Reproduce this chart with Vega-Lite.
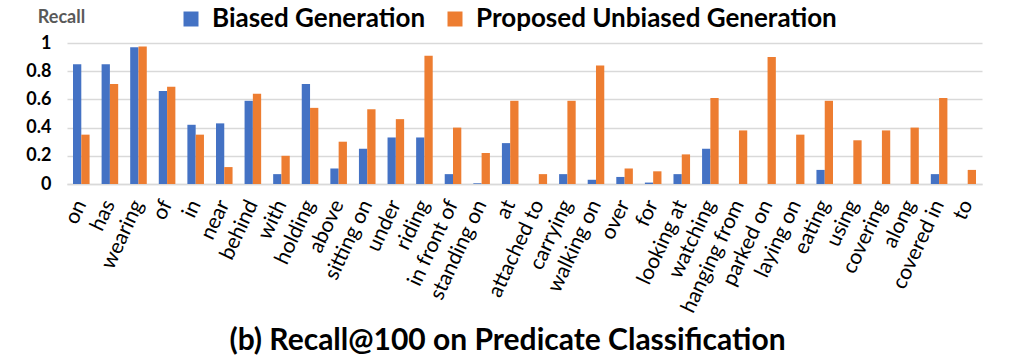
{
  "$schema": "https://vega.github.io/schema/vega-lite/v6.json",
  "width": 915,
  "height": 141,
  "autosize": {"type": "none"},
  "padding": {"left": 67, "top": 43, "right": 42, "bottom": 174},
  "background": "white",
  "config": {
    "font": "Lato",
    "view": {"stroke": null},
    "title": {"font": "Lato", "fontSize": 30, "fontWeight": "bold", "color": "black"}
  },
  "title": {"text": "(b) Recall@100 on Predicate Classification", "orient": "bottom", "anchor": "middle", "offset": 11, "dx": -17},
  "data": {
    "values": [
      {"p": "on", "s": "Biased Generation", "v": 0.85}, {"p": "on", "s": "Proposed Unbiased Generation", "v": 0.35},
      {"p": "has", "s": "Biased Generation", "v": 0.85}, {"p": "has", "s": "Proposed Unbiased Generation", "v": 0.71},
      {"p": "wearing", "s": "Biased Generation", "v": 0.97}, {"p": "wearing", "s": "Proposed Unbiased Generation", "v": 0.975},
      {"p": "of", "s": "Biased Generation", "v": 0.66}, {"p": "of", "s": "Proposed Unbiased Generation", "v": 0.69},
      {"p": "in", "s": "Biased Generation", "v": 0.42}, {"p": "in", "s": "Proposed Unbiased Generation", "v": 0.35},
      {"p": "near", "s": "Biased Generation", "v": 0.43}, {"p": "near", "s": "Proposed Unbiased Generation", "v": 0.12},
      {"p": "behind", "s": "Biased Generation", "v": 0.59}, {"p": "behind", "s": "Proposed Unbiased Generation", "v": 0.64},
      {"p": "with", "s": "Biased Generation", "v": 0.07}, {"p": "with", "s": "Proposed Unbiased Generation", "v": 0.2},
      {"p": "holding", "s": "Biased Generation", "v": 0.71}, {"p": "holding", "s": "Proposed Unbiased Generation", "v": 0.54},
      {"p": "above", "s": "Biased Generation", "v": 0.11}, {"p": "above", "s": "Proposed Unbiased Generation", "v": 0.3},
      {"p": "sitting on", "s": "Biased Generation", "v": 0.25}, {"p": "sitting on", "s": "Proposed Unbiased Generation", "v": 0.53},
      {"p": "under", "s": "Biased Generation", "v": 0.33}, {"p": "under", "s": "Proposed Unbiased Generation", "v": 0.46},
      {"p": "riding", "s": "Biased Generation", "v": 0.33}, {"p": "riding", "s": "Proposed Unbiased Generation", "v": 0.91},
      {"p": "in front of", "s": "Biased Generation", "v": 0.07}, {"p": "in front of", "s": "Proposed Unbiased Generation", "v": 0.4},
      {"p": "standing on", "s": "Biased Generation", "v": 0.005}, {"p": "standing on", "s": "Proposed Unbiased Generation", "v": 0.22},
      {"p": "at", "s": "Biased Generation", "v": 0.29}, {"p": "at", "s": "Proposed Unbiased Generation", "v": 0.59},
      {"p": "attached to", "s": "Biased Generation", "v": 0}, {"p": "attached to", "s": "Proposed Unbiased Generation", "v": 0.07},
      {"p": "carrying", "s": "Biased Generation", "v": 0.07}, {"p": "carrying", "s": "Proposed Unbiased Generation", "v": 0.59},
      {"p": "walking on", "s": "Biased Generation", "v": 0.03}, {"p": "walking on", "s": "Proposed Unbiased Generation", "v": 0.84},
      {"p": "over", "s": "Biased Generation", "v": 0.05}, {"p": "over", "s": "Proposed Unbiased Generation", "v": 0.11},
      {"p": "for", "s": "Biased Generation", "v": 0.01}, {"p": "for", "s": "Proposed Unbiased Generation", "v": 0.09},
      {"p": "looking at", "s": "Biased Generation", "v": 0.07}, {"p": "looking at", "s": "Proposed Unbiased Generation", "v": 0.21},
      {"p": "watching", "s": "Biased Generation", "v": 0.25}, {"p": "watching", "s": "Proposed Unbiased Generation", "v": 0.61},
      {"p": "hanging from", "s": "Biased Generation", "v": 0}, {"p": "hanging from", "s": "Proposed Unbiased Generation", "v": 0.38},
      {"p": "parked on", "s": "Biased Generation", "v": 0}, {"p": "parked on", "s": "Proposed Unbiased Generation", "v": 0.9},
      {"p": "laying on", "s": "Biased Generation", "v": 0}, {"p": "laying on", "s": "Proposed Unbiased Generation", "v": 0.35},
      {"p": "eating", "s": "Biased Generation", "v": 0.1}, {"p": "eating", "s": "Proposed Unbiased Generation", "v": 0.59},
      {"p": "using", "s": "Biased Generation", "v": 0}, {"p": "using", "s": "Proposed Unbiased Generation", "v": 0.31},
      {"p": "covering", "s": "Biased Generation", "v": 0}, {"p": "covering", "s": "Proposed Unbiased Generation", "v": 0.38},
      {"p": "along", "s": "Biased Generation", "v": 0}, {"p": "along", "s": "Proposed Unbiased Generation", "v": 0.4},
      {"p": "covered in", "s": "Biased Generation", "v": 0.07}, {"p": "covered in", "s": "Proposed Unbiased Generation", "v": 0.61},
      {"p": "to", "s": "Biased Generation", "v": 0}, {"p": "to", "s": "Proposed Unbiased Generation", "v": 0.1}
    ]
  },
  "mark": {"type": "bar"},
  "encoding": {
    "x": {
      "field": "p", "type": "nominal", "sort": null,
      "scale": {"paddingInner": 0.42, "paddingOuter": 0.21},
      "axis": {
        "title": null, "labelAngle": -65, "labelFontSize": 21, "labelColor": "black",
        "labelFont": "Lato", "ticks": false, "domainColor": "#d9d9d9", "domainWidth": 1.5,
        "labelPadding": 17, "labelLimit": 300
      }
    },
    "xOffset": {"field": "s", "type": "nominal", "sort": ["Biased Generation", "Proposed Unbiased Generation"]},
    "y": {
      "field": "v", "type": "quantitative",
      "scale": {"domain": [0, 1], "nice": false},
      "axis": {
        "values": [0, 0.2, 0.4, 0.6, 0.8, 1], "format": ".1~f",
        "title": "Recall", "titleAngle": 0, "titleAlign": "center", "titleBaseline": "middle",
        "titleX": -6, "titleY": -26, "titleFontSize": 18, "titleFontWeight": "bold", "titleColor": "#595959", "titleFont": "Lato",
        "labelFontSize": 18, "labelFontWeight": "bold", "labelColor": "black", "labelFont": "Lato",
        "labelPadding": 16, "domain": false, "ticks": false,
        "gridColor": "#d9d9d9", "gridWidth": 1.5
      }
    },
    "color": {
      "field": "s", "type": "nominal",
      "scale": {"domain": ["Biased Generation", "Proposed Unbiased Generation"], "range": ["#4472C4", "#ED7D31"]},
      "legend": {
        "title": null, "orient": "none", "direction": "horizontal", "legendX": 111, "legendY": -37,
        "symbolType": "square", "symbolSize": 225, "symbolStrokeWidth": 0, "symbolOpacity": 1,
        "labelFontSize": 26, "labelFontWeight": "bold", "labelColor": "black", "labelFont": "Lato",
        "labelOffset": 8, "columnPadding": 16, "labelLimit": 600
      }
    }
  }
}
